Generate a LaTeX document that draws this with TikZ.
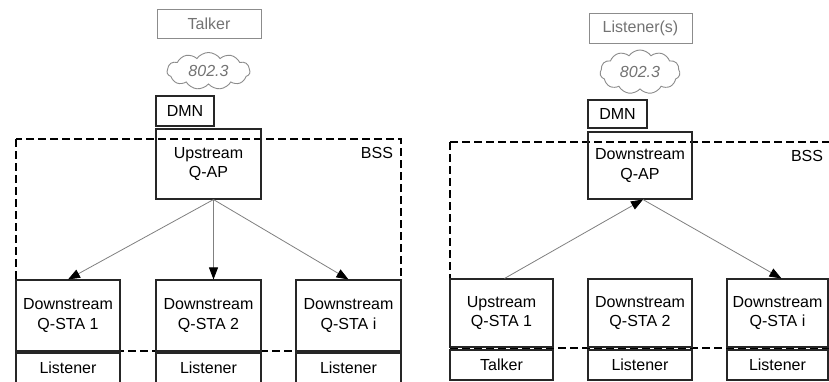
\documentclass[tikz,border=0pt]{standalone}
\usepackage{fontspec}
\setmainfont{Liberation Sans}
\usetikzlibrary{arrows.meta,shapes.symbols}
\tikzset{
	box/.style={draw=black!85, line width=1.1pt, align=center, inner sep=0pt, font=\fontsize{16}{19.5}\selectfont},
	greybox/.style={draw=black!45, line width=1pt, text=black!55, inner sep=0pt, font=\fontsize{16}{19.5}\selectfont},
	netcloud/.style={cloud, cloud puffs=11, cloud puff arc=110, cloud ignores aspect, draw=black!45, line width=0.9pt, inner sep=0pt, text=black!55, font=\fontsize{16}{19.5}\selectfont\itshape},
	bss/.style={draw=black, line width=2pt, dash pattern=on 8pt off 4pt},
	flow/.style={draw=black!50, line width=0.8pt, -{Triangle[length=12pt,width=9pt,black]}}
}
\begin{document}
\begin{tikzpicture}[x=1pt, y=-1pt]
		\useasboundingbox[fill=white] (0, 0) rectangle (829, 381);
		%%%%% LEFT %%%%%
		\draw[bss] (16, 139) rectangle (401, 351);
		\node[font=\fontsize{16}{19.5}\selectfont] (bssL) at (377, 153) {BSS};
		
		\node[greybox, minimum width=104, minimum height=29] (talkerL) at (209, 23.5) {Talker};
		\node[netcloud, minimum width=83, minimum height=37] (cloudL) at (208.5, 71) {802.3};
		\node[box, minimum width=58, minimum height=30] (dmnL) at (185, 111) {DMN};
		\node[box, minimum width=105, minimum height=70] (qapL) at (208.5, 164) {Upstream\\Q-AP};
		
		\node[box, minimum width=104, minimum height=71] (staLa) at (68, 315.5) {Downstream\\Q-STA 1};
		\node[box, minimum width=105, minimum height=71] (staLb) at (208.5, 315.5) {Downstream\\Q-STA 2};
		\node[box, minimum width=105, minimum height=71] (staLi) at (348.5, 315.5) {Downstream\\Q-STA i};
		
		\node[box, minimum width=104, minimum height=30] (lisLa) at (68, 368) {Listener};
		\node[box, minimum width=105, minimum height=30] (lisLb) at (208.5, 368) {Listener};
		\node[box, minimum width=105, minimum height=30] (lisLi) at (348.5, 368) {Listener};
		
		\draw[flow] ([xshift=5]qapL.south) -- (staLa.north);
		\draw[flow] ([xshift=5]qapL.south) -- ([xshift=5]staLb.north);
		\draw[flow] ([xshift=5]qapL.south) -- (staLi.north);
		
		%%%%% RIGHT %%%%%
		\draw[bss] (450, 142) -- (835, 142);
		\draw[bss] (450, 348) -- (835, 348);
		\draw[bss] (450, 142) -- (450, 348);
		\node[font=\fontsize{16}{19.5}\selectfont] (bssR) at (807, 156) {BSS};
		
		\node[greybox, minimum width=103, minimum height=30] (listenersR) at (640.5, 28) {Listener(s)};
		\node[netcloud, minimum width=80, minimum height=44] (cloudR) at (640, 72) {802.3};
		\node[box, minimum width=59, minimum height=28] (dmnR) at (617.5, 114) {DMN};
		\node[box, minimum width=104, minimum height=67] (qapR) at (640, 165.5) {Downstream\\Q-AP};
		
		\node[box, minimum width=103, minimum height=68] (staRa) at (501.5, 313) {Upstream\\Q-STA 1};
		\node[box, minimum width=104, minimum height=68] (staRb) at (640, 313) {Downstream\\Q-STA 2};
		\node[box, minimum width=101, minimum height=68] (staRi) at (777.5, 313) {Downstream\\Q-STA i};
		
		\node[box, minimum width=103, minimum height=30] (tlkRa) at (501.5, 365) {Talker};
		\node[box, minimum width=104, minimum height=30] (lisRb) at (640, 365) {Listener};
		\node[box, minimum width=101, minimum height=30] (lisRi) at (777.5, 365) {Listener};
		
		\draw[flow] ([xshift=3]staRa.north) -- ([xshift=3]qapR.south);
		\draw[flow] ([xshift=3]qapR.south) -- ([xshift=4]staRi.north);
	\end{tikzpicture}
\end{document}
